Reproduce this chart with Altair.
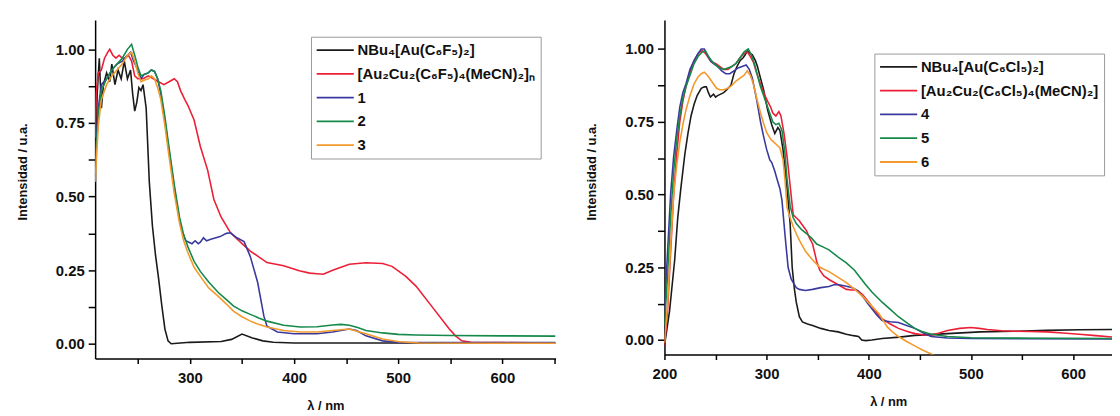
import altair as alt
import pandas as pd

FONT = "Liberation Sans"

# ---------------- left panel data ----------------
L_NAMES = ["NBu₄[Au(C₆F₅)₂]", "[Au₂Cu₂(C₆F₅)₄(MeCN)₂]ₙ", "1", "2", "3"]
L_COLORS = ["#1a1a1a", "#ec1f36", "#3a3a9e", "#15894a", "#f39a2c"]

L_black_x = [209, 211, 213, 215, 217, 220, 223, 225, 228, 231, 234, 237, 240, 243, 245, 247, 249, 251, 253, 255,
             258, 261, 264, 267, 270, 273, 276, 279, 282, 300, 330, 340, 350, 360, 370, 380, 400, 500, 651]
L_black_y = [0.60, 0.85, 0.97, 0.80, 0.88, 0.92, 0.89, 0.95, 0.88, 0.93, 0.90, 0.96, 0.90, 0.93, 0.85, 0.79,
             0.82, 0.87, 0.86, 0.88, 0.80, 0.55, 0.40, 0.30, 0.22, 0.13, 0.05, 0.01, 0.0, 0.005, 0.008, 0.015,
             0.033, 0.02, 0.01, 0.005, 0.003, 0.003, 0.003]

L_red_x = [209, 210, 212, 215, 218, 221, 223, 226, 229, 232, 235, 238, 241, 244, 247, 250, 255, 260, 265, 270,
           275, 280, 285, 288, 291, 295, 298, 304, 310, 317, 323, 330, 339, 350, 358, 374, 390, 405, 415, 422,
           428, 437, 453, 469, 485, 494, 507, 517, 532, 549, 555, 561, 570, 600, 651]
L_red_y = [0.70, 0.85, 0.92, 0.93, 0.97, 0.99, 1.00, 0.98, 0.97, 0.98, 0.97, 0.97, 0.98, 0.96, 0.91, 0.90, 0.90,
           0.91, 0.90, 0.89, 0.88, 0.89, 0.90, 0.89, 0.86, 0.83, 0.81, 0.76, 0.67, 0.59, 0.49, 0.43, 0.377, 0.34,
           0.315, 0.276, 0.265, 0.248, 0.24, 0.238, 0.236, 0.25, 0.27, 0.275, 0.273, 0.263, 0.23, 0.196, 0.128,
           0.05, 0.027, 0.01, 0.005, 0.004, 0.003]

L_blue_x = [209, 212, 215, 220, 225, 230, 235, 240, 243, 246, 250, 253, 256, 260, 263, 266, 269, 272, 276, 279,
            285, 290, 293, 296, 299, 302, 305, 308, 310, 313, 316, 320, 325, 329, 335, 339, 345, 352, 358, 365,
            371, 374, 384, 400, 422, 437, 453, 460, 469, 485, 500, 651]
L_blue_y = [0.62, 0.80, 0.88, 0.90, 0.93, 0.95, 0.96, 0.98, 0.99, 0.96, 0.93, 0.90, 0.915, 0.92, 0.93, 0.925, 0.90,
            0.85, 0.76, 0.68, 0.53, 0.42, 0.377, 0.35, 0.345, 0.34, 0.35, 0.34, 0.345, 0.36, 0.35, 0.355, 0.36,
            0.364, 0.375, 0.377, 0.36, 0.347, 0.296, 0.209, 0.094, 0.06, 0.04, 0.034, 0.034, 0.04, 0.05, 0.045,
            0.027, 0.01, 0.005, 0.004]

L_green_x = [209, 212, 215, 220, 225, 230, 235, 240, 244, 247, 250, 253, 256, 260, 263, 266, 269, 272, 276, 279,
             285, 290, 294, 298, 304, 310, 318, 327, 335, 342, 350, 358, 366, 374, 390, 406, 422, 437, 445, 453,
             461, 469, 485, 500, 517, 550, 600, 651]
L_green_y = [0.58, 0.78, 0.86, 0.90, 0.93, 0.95, 0.97, 1.00, 1.017, 0.98, 0.94, 0.91, 0.915, 0.92, 0.93, 0.925,
             0.90, 0.86, 0.77, 0.69, 0.54, 0.43, 0.37, 0.33, 0.28, 0.246, 0.21, 0.175, 0.15, 0.128, 0.112, 0.10,
             0.088, 0.077, 0.063, 0.057, 0.058, 0.064, 0.066, 0.063, 0.055, 0.045, 0.037, 0.032, 0.03, 0.028,
             0.027, 0.026]

L_orange_x = [209, 212, 215, 220, 225, 230, 235, 240, 244, 247, 250, 253, 256, 260, 263, 266, 269, 272, 276, 279,
              285, 290, 294, 298, 304, 310, 318, 327, 335, 342, 350, 358, 366, 374, 390, 406, 422, 437, 453, 461,
              469, 485, 501, 520, 600, 651]
L_orange_y = [0.55, 0.74, 0.83, 0.88, 0.91, 0.93, 0.95, 0.98, 0.99, 0.96, 0.92, 0.89, 0.895, 0.90, 0.91, 0.90,
              0.87, 0.83, 0.74, 0.66, 0.51, 0.41, 0.35, 0.31, 0.26, 0.229, 0.19, 0.162, 0.135, 0.11, 0.092, 0.077,
              0.066, 0.057, 0.045, 0.04, 0.04, 0.045, 0.05, 0.042, 0.034, 0.016, 0.007, 0.003, 0.002, 0.002]

# ---------------- right panel data ----------------
R_NAMES = ["NBu₄[Au(C₆Cl₅)₂]", "[Au₂Cu₂(C₆Cl₅)₄(MeCN)₂]", "4", "5", "6"]
R_COLORS = ["#1a1a1a", "#ec1f36", "#3a3a9e", "#15894a", "#f39a2c"]

R_black_x = [200, 205, 210, 213, 216, 220, 223, 226, 229, 232, 236, 239, 241, 243, 245, 248, 250, 252, 255, 258,
             261, 265, 268, 271, 274, 277, 279, 281, 284, 286, 289, 291, 294, 297, 301, 305, 308, 311, 313, 316,
             320, 323, 325, 327, 329, 332, 335, 340, 345, 353, 361, 370, 378, 385, 390, 393, 397, 403, 413, 430,
             445, 477, 509, 542, 574, 606, 640]
R_black_y = [-0.02, 0.10, 0.275, 0.42, 0.52, 0.64, 0.71, 0.77, 0.81, 0.84, 0.865, 0.87, 0.87, 0.85, 0.835, 0.845,
             0.835, 0.84, 0.845, 0.85, 0.86, 0.875, 0.915, 0.94, 0.96, 0.97, 0.98, 0.993, 0.985, 0.98, 0.96, 0.94,
             0.90, 0.86, 0.79, 0.74, 0.71, 0.73, 0.72, 0.655, 0.52, 0.40, 0.25, 0.18, 0.13, 0.08, 0.062, 0.055,
             0.05, 0.04, 0.033, 0.028, 0.02, 0.015, 0.012, 0.0, -0.002, 0.0, 0.005, 0.01, 0.016, 0.022, 0.028,
             0.03, 0.033, 0.035, 0.036]

R_red_x = [200, 203, 206, 209, 212, 215, 218, 221, 225, 229, 233, 237, 240, 243, 246, 250, 254, 258, 262, 266,
           270, 274, 278, 281, 284, 287, 290, 293, 297, 301, 304, 306, 309, 312, 314, 317, 320, 323, 326, 329,
           332, 336, 339, 342, 345, 349, 352, 356, 361, 370, 378, 383, 387, 390, 394, 400, 406, 413, 421, 429,
           437, 445, 453, 461, 469, 477, 489, 500, 508, 516, 530, 542, 558, 574, 590, 606, 622, 640]
R_red_y = [-0.02, 0.10, 0.30, 0.50, 0.64, 0.75, 0.82, 0.87, 0.92, 0.96, 0.985, 0.995, 0.985, 0.97, 0.955, 0.95,
           0.94, 0.93, 0.93, 0.94, 0.95, 0.97, 0.985, 0.99, 0.975, 0.955, 0.92, 0.89, 0.85, 0.82, 0.80, 0.78,
           0.77, 0.785, 0.77, 0.71, 0.63, 0.53, 0.43, 0.42, 0.41, 0.39, 0.376, 0.35, 0.33, 0.27, 0.24, 0.22,
           0.208, 0.19, 0.174, 0.172, 0.172, 0.168, 0.155, 0.13, 0.10, 0.073, 0.055, 0.04, 0.03, 0.022, 0.018,
           0.016, 0.024, 0.033, 0.04, 0.043, 0.04, 0.036, 0.032, 0.03, 0.029, 0.028, 0.024, 0.02, 0.015, 0.01]

R_blue_x = [200, 203, 206, 209, 212, 215, 218, 221, 225, 229, 233, 236, 239, 242, 245, 248, 252, 256, 260, 264,
            268, 272, 276, 280, 283, 286, 290, 294, 297, 300, 303, 305, 308, 310, 313, 315, 318, 321, 324, 326,
            329, 332, 338, 345, 353, 361, 366, 371, 378, 384, 389, 394, 399, 403, 408, 413, 421, 429, 437, 445,
            453, 461, 477, 500, 640]
R_blue_y = [0.10, 0.30, 0.50, 0.63, 0.72, 0.80, 0.85, 0.88, 0.93, 0.96, 0.985, 1.0, 1.0, 0.98, 0.96, 0.95, 0.94,
            0.925, 0.915, 0.915, 0.925, 0.935, 0.94, 0.945, 0.93, 0.90, 0.83, 0.75, 0.70, 0.655, 0.62, 0.61,
            0.58, 0.555, 0.52, 0.48, 0.36, 0.25, 0.21, 0.197, 0.18, 0.174, 0.17, 0.174, 0.18, 0.184, 0.19, 0.19,
            0.185, 0.18, 0.17, 0.15, 0.125, 0.107, 0.085, 0.067, 0.063, 0.06, 0.05, 0.04, 0.025, 0.012, 0.007,
            0.005, 0.004]

R_green_x = [200, 203, 206, 209, 212, 215, 218, 221, 225, 229, 233, 237, 240, 243, 246, 250, 254, 258, 262, 266,
             270, 274, 278, 282, 285, 288, 291, 294, 297, 300, 303, 306, 309, 312, 315, 318, 320, 323, 326, 329,
             334, 339, 344, 349, 355, 361, 370, 378, 386, 393, 397, 403, 413, 421, 429, 437, 445, 453, 461, 477,
             500, 560, 640]
R_green_y = [0.05, 0.22, 0.42, 0.58, 0.69, 0.77, 0.83, 0.87, 0.91, 0.95, 0.975, 0.99, 0.993, 0.975, 0.96, 0.945,
             0.935, 0.93, 0.935, 0.94, 0.95, 0.97, 0.99, 1.0, 0.98, 0.95, 0.91, 0.87, 0.84, 0.81, 0.78, 0.75, 0.74,
             0.745, 0.72, 0.64, 0.55, 0.46, 0.42, 0.40, 0.38, 0.366, 0.35, 0.33, 0.32, 0.31, 0.285, 0.265, 0.24,
             0.208, 0.19, 0.165, 0.13, 0.105, 0.08, 0.06, 0.04, 0.028, 0.02, 0.012, 0.008, 0.006, 0.005]

R_orange_x = [200, 203, 206, 209, 212, 215, 218, 221, 225, 229, 233, 236, 239, 242, 245, 248, 251, 254, 258, 262,
              266, 270, 274, 278, 281, 284, 287, 290, 294, 297, 300, 304, 307, 310, 313, 316, 318, 320, 323, 326,
              329, 332, 338, 345, 352, 361, 370, 378, 386, 394, 402, 410, 418, 424, 429, 437, 445, 453, 461, 468]
R_orange_y = [-0.01, 0.12, 0.32, 0.50, 0.60, 0.68, 0.74, 0.79, 0.84, 0.88, 0.905, 0.915, 0.92, 0.91, 0.895, 0.88,
              0.865, 0.86, 0.86, 0.865, 0.875, 0.89, 0.90, 0.91, 0.925, 0.91, 0.88, 0.835, 0.78, 0.745, 0.713,
              0.69, 0.68, 0.67, 0.66, 0.62, 0.55, 0.455, 0.42, 0.39, 0.365, 0.343, 0.305, 0.275, 0.25, 0.235,
              0.215, 0.197, 0.175, 0.15, 0.12, 0.09, 0.045, 0.025, 0.012, -0.005, -0.02, -0.035, -0.048, -0.06]


def frame(names, xs_list, ys_list):
    rows = []
    for name, xs, ys in zip(names, xs_list, ys_list):
        for x, y in zip(xs, ys):
            rows.append({"s": name, "x": x, "y": y})
    return pd.DataFrame(rows)


left_df = frame(L_NAMES, [L_black_x, L_red_x, L_blue_x, L_green_x, L_orange_x],
                [L_black_y, L_red_y, L_blue_y, L_green_y, L_orange_y])
right_df = frame(R_NAMES, [R_black_x, R_red_x, R_blue_x, R_green_x, R_orange_x],
                 [R_black_y, R_red_y, R_blue_y, R_green_y, R_orange_y])

Y_TICKS = [0, 0.125, 0.25, 0.375, 0.5, 0.625, 0.75, 0.875, 1.0]


def panel(df, names, colors, xdom, xticks, w, h, lx, ly):
    x_axis = alt.Axis(values=xticks, labelExpr="datum.value % 100 == 0 ? datum.label : ''",
                      title="λ / nm", format="d", labelPadding=7, titlePadding=14, tickSize=5,
                      labelFlush=False)
    y_axis = alt.Axis(values=Y_TICKS, format=".2f",
                      labelExpr="(datum.value * 4) % 1 == 0 ? datum.label : ''",
                      title="Intensidad / u.a.", tickSize=7, labelPadding=4, titlePadding=26,
                      titleY=153)
    legend = alt.Legend(orient="none", legendX=lx, legendY=ly, title=None,
                        symbolType="M-2.5,0H2.5", symbolSize=225, symbolOffset=11,
                        symbolStrokeWidth=1.8, labelFont=FONT, labelFontWeight="bold",
                        labelFontSize=15, labelColor="#111", strokeColor="#9a9a9a", fillColor="white",
                        padding=5, rowPadding=7, labelLimit=400, labelOffset=14)
    return alt.Chart(df).mark_line(strokeWidth=1.6, clip=True).encode(
        x=alt.X("x:Q", scale=alt.Scale(domain=xdom, nice=False, zero=False), axis=x_axis),
        y=alt.Y("y:Q", scale=alt.Scale(domain=[-0.05, 1.1], nice=False, zero=False), axis=y_axis),
        color=alt.Color("s:N", scale=alt.Scale(domain=names, range=colors), legend=legend,
                        sort=names),
        order=alt.Order("x:Q"),
        detail="s:N",
    ).properties(width=w, height=h)


left = panel(left_df, L_NAMES, L_COLORS, [209, 651],
             [250, 300, 350, 400, 450, 500, 550, 600, 650], 465, 342, 218, 17)
right = panel(right_df, R_NAMES, R_COLORS, [200, 638],
              [200, 250, 300, 350, 400, 450, 500, 550, 600], 452, 338, 212, 34)

chart = alt.hconcat(left, right, spacing=30).resolve_scale(color="independent").properties(
    padding={"left": 8, "top": 10, "right": 0, "bottom": 0},
    background="white",
).configure_view(stroke=None).configure_axis(
    grid=False, domainColor="#000", domainWidth=1.5, tickColor="#000", tickWidth=1.5,
    labelFont=FONT, labelFontSize=15, labelFontWeight="bold", labelColor="#111",
    titleFont=FONT, titleFontSize=13, titleFontWeight="bold", titleColor="#111",
)

chart.save("out.html", embed_options={"renderer": "svg", "actions": False})
